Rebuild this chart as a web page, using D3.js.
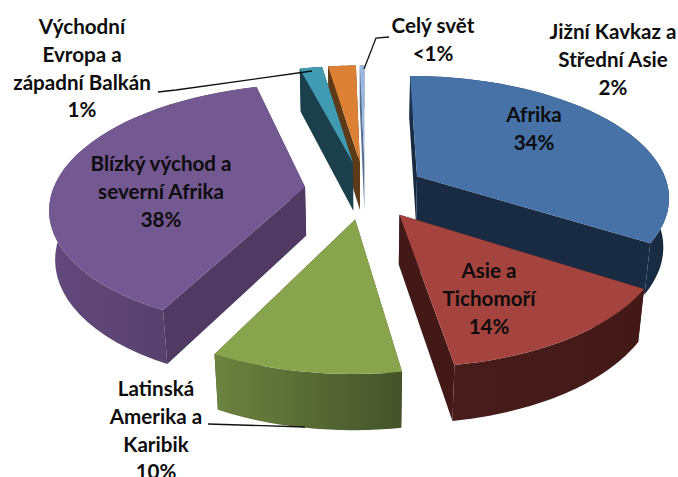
<!DOCTYPE html>
<html><head><meta charset="utf-8">
<script src="https://cdn.jsdelivr.net/npm/d3@7"></script>
<style>html,body{margin:0;background:#fff}svg{display:block}text{font-family:Lato,sans-serif;font-weight:700;font-size:20.6px;fill:#0d0d0d;text-anchor:middle}</style>
</head><body><svg id="c" width="678" height="477"></svg>
<script>
const names = ["Afrika","Asie a Tichomoří","Latinská Amerika a Karibik","Blízký východ a severní Afrika","Východní Evropa a západní Balkán","Jižní Kavkaz a Střední Asie","Celý svět"];
const values = [33.9,13.6,10.0,38.35,1.7,2.1,0.35];
const topColors = ["#4672a8","#a5443f","#88a54e","#745891","#3f9ab2","#dc8036","#9db8de"];
const sideLight = ["#1c3049","#471c1a","#6d8340","#63497c","#1b404c","#5e3b18","#56708f"];
const sideDark = ["#192b42","#431918","#45522a","#503a63","#1b404c","#5e3b18","#56708f"];
const labelLines = [
  ["Afrika","34%"],["Asie a","Tichomoří","14%"],["Latinská","Amerika a","Karibik","10%"],
  ["Blízký východ a","severní Afrika","38%"],["Východní","Evropa a","západní Balkán","1%"],
  ["Jižní Kavkaz a","Střední Asie","2%"],["Celý svět","<1%"]];
const labelAnchor = [[534,122],[489,278],[156,396],[161,171],[82,34],[613,39],[433,33]];
const leaders = [
  [[158,92],[176,90],[312,71]],
  [[389,37],[376,38],[364,69]],
  [[208,424],[305,427]]];

const W=678,H=477, cx=365, cy=190;
const T=28.4*Math.PI/180, sT=Math.sin(T), cT=Math.cos(T), D=5.63, F=1420, EXPL=0.24, DEPTH=0.225;
const proj=(a,r,z,m)=>{
  const X=EXPL*Math.sin(m)+r*Math.sin(a), V=EXPL*Math.cos(m)+r*Math.cos(a);
  const w=D+V*cT-z*sT;
  return [cx+F*X/w, cy-F*(V*sT+z*cT)/w];
};
const rad=d3.scaleLinear().domain([0,360]).range([0,2*Math.PI]);
const pie=d3.pie().sort(null).startAngle(rad(0)).endAngle(rad(360))(values);
const line=d3.line();
const svg=d3.select("#c");
const defs=svg.append("defs");

const order=pie.map((p,i)=>({p,i,m:(p.startAngle+p.endAngle)/2}))
  .sort((a,b)=>Math.cos(b.m)-Math.cos(a.m));
const layers=svg.append("g");
order.forEach(({p,i,m})=>{
  const as=d3.range(0,41).map(k=>p.startAngle+(p.endAngle-p.startAngle)*k/40);
  const apex=proj(0,0,0,m), apexB=proj(0,0,-DEPTH,m);
  const rim=as.map(a=>proj(a,1,0,m)), rimB=as.map(a=>proj(a,1,-DEPTH,m));
  const g=layers.append("g");
  const id="g"+i;
  const ext=d3.extent(rim,d=>d[0]);
  const gr=defs.append("linearGradient").attr("id",id).attr("gradientUnits","userSpaceOnUse")
    .attr("x1",ext[0]).attr("x2",ext[1]).attr("y1",0).attr("y2",0);
  gr.append("stop").attr("offset",0).attr("stop-color",sideLight[i]);
  gr.append("stop").attr("offset",1).attr("stop-color",sideDark[i]);
  g.append("path").attr("d",line([apex,rim[0],rimB[0],apexB])+"Z").attr("fill",sideDark[i]);
  g.append("path").attr("d",line([apex,rim[40],rimB[40],apexB])+"Z").attr("fill",sideDark[i]);
  g.append("path").attr("d",line(rim.concat(rimB.slice().reverse()))+"Z").attr("fill","url(#"+id+")");
  g.append("path").attr("d",line([apex].concat(rim))+"Z").attr("fill",topColors[i]);
});

svg.append("g").selectAll("path").data(leaders).join("path")
  .attr("d",d=>line(d)).attr("fill","none").attr("stroke","#111").attr("stroke-width",1.3);

const lh=27.8;
const t=svg.append("g").selectAll("text").data(labelLines).join("text")
  .attr("transform",(d,i)=>`translate(${labelAnchor[i][0]},${labelAnchor[i][1]})`);
t.selectAll("tspan").data(d=>d).join("tspan").attr("x",0).attr("y",(d,i)=>i*lh).text(d=>d);
</script></body></html>
